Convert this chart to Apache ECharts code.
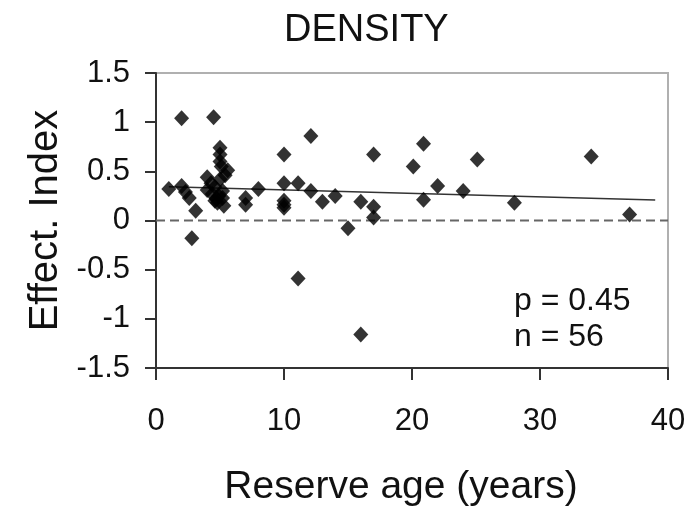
<!DOCTYPE html>
<html>
<head>
<meta charset="utf-8">
<script src="https://cdn.jsdelivr.net/npm/echarts@6/dist/echarts.min.js"></script>
<style>
html,body{margin:0;padding:0;background:#fff;}
#chart{width:689px;height:506px;}
</style>
</head>
<body>
<div id="chart"></div>
<script>
var titleText = "DENSITY";
var xName = "Reserve age (years)";
var yName = "Effect. Index";
var annotations = ["p = 0.45", "n = 56"];

var ageYears = [1.0, 2.0, 2.0, 2.3, 2.6, 3.1, 2.8, 4.0, 4.0, 4.5, 4.4, 4.6, 4.7, 4.8,
  5.0, 5.0, 5.0, 5.1, 5.0, 5.2, 5.3, 5.6, 4.9, 7.0, 7.0, 8.0, 10.0, 10.0, 10.0, 10.0,
  10.0, 11.1, 11.1, 12.1, 12.1, 13.0, 14.0, 15.0, 16.0, 16.0, 17.0, 17.0, 17.0, 20.1,
  20.9, 20.9, 22.0, 24.0, 25.1, 28.0, 34.0, 37.0, 4.3, 5.4, 4.6, 5.2];
var effectIndex = [0.32, 1.04, 0.35, 0.29, 0.23, 0.10, -0.18, 0.44, 0.31, 1.05, 0.27, 0.34, 0.22, 0.18,
  0.74, 0.67, 0.60, 0.55, 0.42, 0.30, 0.15, 0.51, 0.25, 0.23, 0.16, 0.32, 0.67, 0.38, 0.20, 0.16,
  0.13, 0.38, -0.59, 0.86, 0.30, 0.19, 0.25, -0.08, 0.19, -1.16, 0.67, 0.14, 0.03, 0.55,
  0.78, 0.21, 0.35, 0.30, 0.62, 0.18, 0.65, 0.06, 0.38, 0.46, 0.20, 0.23];

var trendX = [1, 39];
var trendY = [0.342, 0.208];
var zeroX = [0, 40];
var zeroY = [0, 0];

var xTicks = [0, 10, 20, 30, 40];
var yTicks = [-1.5, -1, -0.5, 0, 0.5, 1, 1.5];

var FONT = "'Liberation Sans', Arial, sans-serif";

var points = ageYears.map(function (x, i) { return [x, effectIndex[i]]; });
var trend = trendX.map(function (x, i) { return [x, trendY[i]]; });
var zero = zeroX.map(function (x, i) { return [x, zeroY[i]]; });

var chart = echarts.init(document.getElementById('chart'));
chart.setOption({
  backgroundColor: '#ffffff',
  animation: false,
  title: {
    text: titleText,
    left: 279, top: 7,
    textStyle: { fontFamily: FONT, fontSize: 38, fontWeight: 'normal', color: '#111' }
  },
  grid: {
    left: 156, right: 21, top: 73, bottom: 138,
    outerBoundsMode: 'none', containLabel: false,
    show: true, borderColor: '#b0b0b0', borderWidth: 2, backgroundColor: 'transparent'
  },
  xAxis: {
    type: 'value', min: xTicks[0], max: xTicks[xTicks.length - 1], interval: 10,
    name: xName, nameLocation: 'middle', nameGap: 100,
    nameTextStyle: { fontFamily: FONT, fontSize: 39, color: '#111', padding: [0, 22, 0, 0] },
    axisLine: { onZero: false, lineStyle: { color: '#333', width: 2 } },
    axisTick: { show: true, inside: false, length: 12, lineStyle: { color: '#333', width: 2 } },
    axisLabel: { fontFamily: FONT, fontSize: 31, color: '#111', margin: 38 },
    splitLine: { show: false }
  },
  yAxis: {
    type: 'value', min: yTicks[0], max: yTicks[yTicks.length - 1], interval: 0.5,
    name: yName, nameLocation: 'middle', nameGap: 88, nameRotate: 90,
    nameTextStyle: { fontFamily: FONT, fontSize: 40, color: '#111' },
    axisLine: { onZero: false, lineStyle: { color: '#333', width: 2 } },
    axisTick: { show: true, inside: false, length: 11, lineStyle: { color: '#333', width: 2 } },
    axisLabel: { fontFamily: FONT, fontSize: 31, color: '#111', margin: 26 },
    splitLine: { show: false }
  },
  graphic: [
    { type: 'text', left: 514, top: 285, style: { text: annotations[0], font: '32px ' + FONT, fill: '#111' } },
    { type: 'text', left: 514, top: 321, style: { text: annotations[1], font: '32px ' + FONT, fill: '#111' } }
  ],
  series: [
    {
      type: 'line', data: zero, symbol: 'none', silent: true, z: 1,
      lineStyle: { color: '#666', width: 2, type: [9, 5] }
    },
    {
      type: 'line', data: trend, symbol: 'none', silent: true, z: 2,
      lineStyle: { color: '#333', width: 1.5 }
    },
    {
      type: 'scatter', data: points, symbol: 'diamond', symbolSize: [15, 16], z: 3,
      itemStyle: { color: '#000' }
    }
  ]
});
</script>
</body>
</html>
